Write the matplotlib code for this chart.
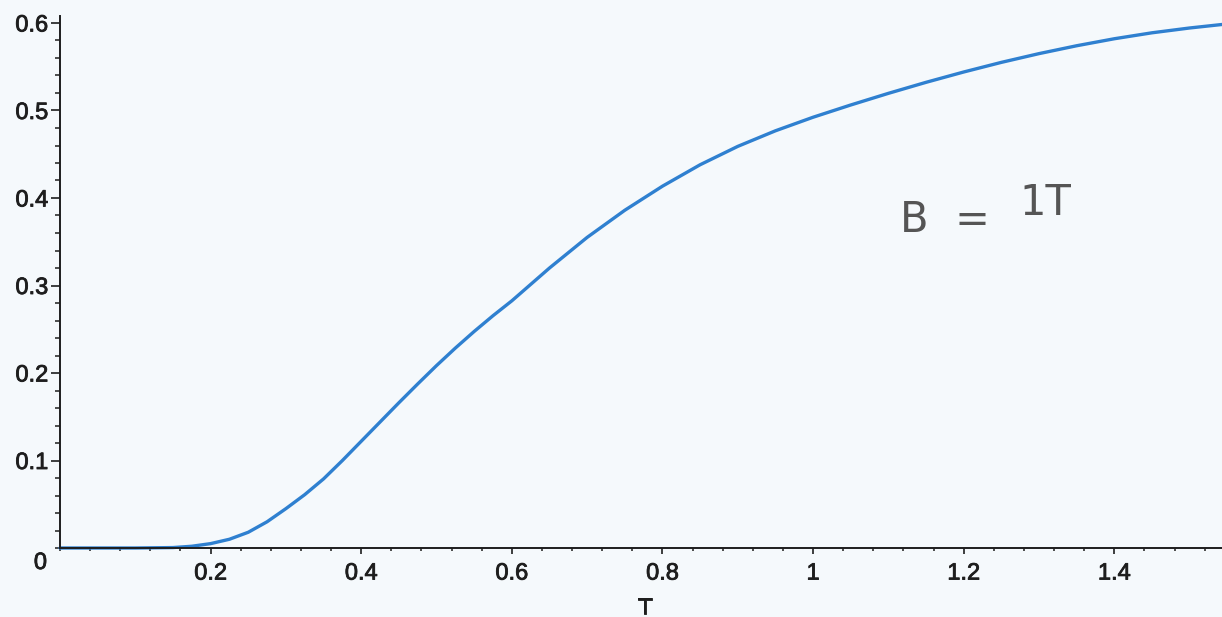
import matplotlib
matplotlib.use("Agg")
import matplotlib.pyplot as plt
import matplotlib.patheffects as pe
from matplotlib.ticker import MultipleLocator, FixedLocator

# Data
T_vals = [0.00, 0.05, 0.10, 0.15, 0.175, 0.20, 0.225, 0.25, 0.275, 0.30, 0.325,
          0.35, 0.375, 0.40, 0.425, 0.45, 0.475, 0.50, 0.525, 0.55, 0.575, 0.60,
          0.65, 0.70, 0.75, 0.80, 0.85, 0.90, 0.95, 1.00, 1.05, 1.10, 1.15,
          1.20, 1.25, 1.30, 1.35, 1.40, 1.45, 1.50, 1.543]
y_vals = [0.000, 0.000, 0.000, 0.0005, 0.002, 0.005, 0.010, 0.018, 0.030, 0.045, 0.061,
          0.079, 0.100, 0.122, 0.144, 0.166, 0.1875, 0.2085, 0.2285, 0.2475, 0.2655, 0.2825,
          0.3200, 0.3550, 0.3860, 0.4135, 0.4380, 0.4590, 0.4768, 0.4923, 0.5063, 0.5196, 0.5322,
          0.5440, 0.5550, 0.5650, 0.5740, 0.5820, 0.5888, 0.5943, 0.5983]

x_ticks = [0.2, 0.4, 0.6, 0.8, 1.0, 1.2, 1.4]
x_tick_labels = ["0.2", "0.4", "0.6", "0.8", "1", "1.2", "1.4"]
y_ticks = [0.1, 0.2, 0.3, 0.4, 0.5, 0.6]
y_tick_labels = ["0.1", "0.2", "0.3", "0.4", "0.5", "0.6"]
x_label = "T"
annot_left = "B  ="
annot_right = "1T"

plt.rcParams['font.family'] = ['Liberation Sans', 'DejaVu Sans']

W, H = 1222, 617
fig = plt.figure(figsize=(W / 100, H / 100), dpi=100)
bg = '#f5f9fc'
fig.patch.set_facecolor(bg)
ink = '#1e1e1e'
thick = [pe.withStroke(linewidth=0.6, foreground=ink)]

left_px, right_px, bottom_px, top_px = 60, 1222, 548, 16
ax = fig.add_axes([left_px / W, (H - bottom_px) / H,
                   (right_px - left_px) / W, (bottom_px - top_px) / H])
ax.set_facecolor(bg)
ax.set_xlim(0, 1.543)
ax.set_ylim(0, 0.608)

ax.plot(T_vals, y_vals, color='#2f80d0', lw=2.4, solid_capstyle='round',
        solid_joinstyle='round', clip_on=False)

for s in ['top', 'right']:
    ax.spines[s].set_visible(False)
for s in ['left', 'bottom']:
    ax.spines[s].set_color(ink)
    ax.spines[s].set_linewidth(1.4)

ax.xaxis.set_major_locator(FixedLocator(x_ticks))
ax.set_xticklabels(x_tick_labels)
ax.xaxis.set_minor_locator(MultipleLocator(0.04))
ax.yaxis.set_major_locator(FixedLocator(y_ticks))
ax.set_yticklabels(y_tick_labels)
ax.yaxis.set_minor_locator(MultipleLocator(0.02))

ax.tick_params(axis='x', which='major', length=4, width=1.2, pad=6.5,
               labelsize=17, colors=ink)
ax.tick_params(axis='x', which='minor', length=2.5, width=1.1, colors=ink)
ax.tick_params(axis='y', which='major', length=6.5, width=1.2, pad=2,
               labelsize=17, colors=ink)
ax.tick_params(axis='y', which='minor', length=3.6, width=1.1, colors=ink)
for lbl in ax.get_xticklabels() + ax.get_yticklabels():
    lbl.set_path_effects(thick)

# origin label
ax.annotate("0", xy=(0, 0), xycoords='data', xytext=(-13, -4),
            textcoords='offset pixels', ha='right', va='top',
            fontsize=17, color=ink, path_effects=thick)

fig.text(645 / W, (H - 614) / H, x_label, fontsize=17, color=ink,
         ha='center', va='baseline', path_effects=thick)

ax.text(1.1155, 0.361, annot_left, fontsize=30, color='#555555',
        family=['DejaVu Sans'], ha='left', va='baseline')
ax.text(1.274, 0.380, annot_right, fontsize=30, color='#555555',
        family=['DejaVu Sans'], ha='left', va='baseline')

fig.savefig("out.png", dpi=100, facecolor=bg)
